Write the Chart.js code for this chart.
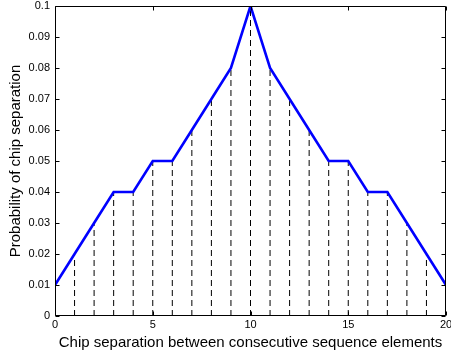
<!DOCTYPE html>
<html>
<head>
<meta charset="utf-8">
<script src="https://cdn.jsdelivr.net/npm/chart.js@4/dist/chart.umd.min.js"></script>
<style>
  html, body { margin: 0; padding: 0; background: #fff; }
  #wrap { width: 451px; height: 352px; }
</style>
</head>
<body>
<div id="wrap"><canvas id="chipChart"></canvas></div>
<script>
// chip separation (x) and its probability (y)
const separations = [0, 1, 2, 3, 4, 5, 6, 7, 8, 9, 10, 11, 12, 13, 14, 15, 16, 17, 18, 19, 20];
const probabilities = [0.01, 0.02, 0.03, 0.04, 0.04, 0.05, 0.05, 0.06, 0.07, 0.08, 0.1,
  0.08, 0.07, 0.06, 0.05, 0.05, 0.04, 0.04, 0.03, 0.02, 0.01];
const xTicks = [0, 5, 10, 15, 20];
const yTicks = [0, 0.01, 0.02, 0.03, 0.04, 0.05, 0.06, 0.07, 0.08, 0.09, 0.1];

const linePoints = separations.map((s, i) => ({ x: s, y: probabilities[i] }));

// stems: 0 -> value at every x, broken by null points
const stemPoints = [];
separations.forEach((s, i) => {
  stemPoints.push({ x: s, y: 0 }, { x: s, y: probabilities[i] }, { x: s, y: null });
});

const font = "'Liberation Sans', Arial, Helvetica, sans-serif";

// matlab style box with inward ticks on all four sides
const boxPlugin = {
  id: "boxTicks",
  afterDatasetsDraw(chart) {
    const { ctx, chartArea: a, scales } = chart;
    const L = Math.round(a.left) + 0.5, R = Math.round(a.right) - 0.5;
    const T = Math.round(a.top) + 0.5, B = Math.round(a.bottom) - 0.5;
    const len = 4;
    ctx.save();
    ctx.strokeStyle = "#000";
    ctx.lineWidth = 1;
    ctx.beginPath();
    ctx.rect(L, T, R - L, B - T);
    xTicks.forEach(v => {
      const px = Math.round(scales.x.getPixelForValue(v)) + 0.5;
      ctx.moveTo(px, B); ctx.lineTo(px, B - len);
      ctx.moveTo(px, T); ctx.lineTo(px, T + len);
    });
    yTicks.forEach(v => {
      const py = Math.round(scales.y.getPixelForValue(v)) + 0.5;
      ctx.moveTo(L, py); ctx.lineTo(L + len, py);
      ctx.moveTo(R, py); ctx.lineTo(R - len, py);
    });
    ctx.stroke();
    ctx.restore();
  }
};

new Chart(document.getElementById("chipChart"), {
  type: "line",
  data: {
    datasets: [
      {
        data: linePoints,
        borderColor: "#0000ff",
        borderWidth: 2.6,
        pointRadius: 0,
        tension: 0,
      },
      {
        data: stemPoints,
        borderColor: "#000",
        borderWidth: 1,
        borderDash: [6, 4],
        pointRadius: 0,
        spanGaps: false,
      },
    ],
  },
  options: {
    responsive: true,
    maintainAspectRatio: false,
    animation: false,
    layout: { padding: { left: 0, top: 6, right: 5, bottom: 0 } },
    plugins: { legend: { display: false }, tooltip: { enabled: false } },
    scales: {
      x: {
        type: "linear",
        min: 0,
        max: 20,
        afterBuildTicks: s => { s.ticks = xTicks.map(v => ({ value: v })); },
        afterFit: s => { s.height = 36; s.paddingLeft = 0; s.paddingRight = 0; },
        grid: { display: false, drawTicks: false },
        border: { display: false },
        ticks: { color: "#000", padding: 2, maxRotation: 0, font: { family: font, size: 11 } },
        title: {
          display: true,
          text: "Chip separation between consecutive sequence elements",
          color: "#000",
          padding: { top: 0, bottom: 0 },
          font: { family: font, size: 15 },
        },
      },
      y: {
        min: 0,
        max: 0.1,
        afterBuildTicks: s => { s.ticks = yTicks.map(v => ({ value: v })); },
        afterFit: s => { s.width = 55; s.paddingTop = 0; s.paddingBottom = 0; },
        grid: { display: false, drawTicks: false },
        border: { display: false },
        ticks: {
          color: "#000",
          padding: 5,
          font: { family: font, size: 11 },
          callback: v => String(+v.toFixed(2)),
        },
        title: {
          display: true,
          text: "Probability of chip separation",
          color: "#000",
          padding: { top: 7, bottom: 0 },
          font: { family: font, size: 15 },
        },
      },
    },
  },
  plugins: [boxPlugin],
});
</script>
</body>
</html>
